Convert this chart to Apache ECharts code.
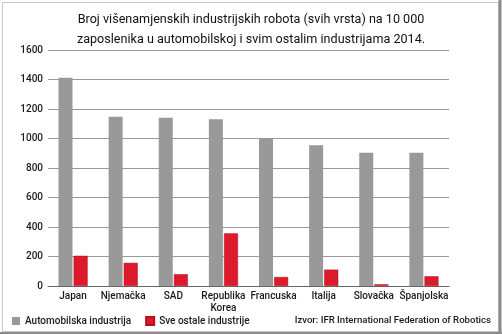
<!DOCTYPE html>
<html><head><meta charset="utf-8">
<script src="https://cdn.jsdelivr.net/npm/echarts@6/dist/echarts.min.js"></script>
<style>html,body{margin:0;padding:0;background:#fff}#c{width:502px;height:334px}</style>
</head><body><div id="c"></div>
<script>
const categories = ['Japan','Njemačka','SAD','Republika\nKorea','Francuska','Italija','Slovačka','Španjolska'];
const autoValues = [1412, 1148, 1141, 1130, 997, 954, 904, 904];
const otherValues = [205, 157, 80, 357, 61, 111, 12, 66];
const yTicks = [0, 200, 400, 600, 800, 1000, 1200, 1400, 1600];
const seriesNames = ['Automobilska industrija', 'Sve ostale industrije'];
const titleLines = ['Broj višenamjenskih industrijskih robota (svih vrsta) na 10 000', 'zaposlenika u automobilskoj i svim ostalim industrijama 2014.'];
const sourceText = 'Izvor: IFR International Federation of Robotics';

const FONT = 'Roboto';
const chart = echarts.init(document.getElementById('c'), null, {renderer: 'canvas'});
chart.setOption({
  animation: false,
  backgroundColor: '#fff',
  title: {
    text: titleLines.join('\n'),
    left: 'center', top: 5,
    textStyle: {fontFamily: FONT, fontSize: 12.6, fontWeight: 'normal', color: '#111', lineHeight: 20}
  },
  grid: {left: 48, right: 53, top: 50, bottom: 48},
  legend: {
    data: seriesNames,
    left: 12, top: 316, padding: 0,
    icon: 'rect', itemWidth: 8, itemHeight: 8, itemGap: 14,
    textStyle: {fontFamily: FONT, fontSize: 10, color: '#1a1a1a', fontWeight: 500}
  },
  xAxis: {
    type: 'category', data: categories,
    axisLine: {lineStyle: {color: '#666', width: 1}},
    axisTick: {show: false},
    axisLabel: {fontFamily: FONT, fontSize: 10, color: '#1a1a1a', fontWeight: 500, margin: 4, interval: 0, lineHeight: 12}
  },
  yAxis: {
    type: 'value', min: 0, max: 1600, interval: 200,
    axisLine: {show: false}, axisTick: {show: false},
    splitLine: {lineStyle: {color: '#999', width: 1.2}},
    axisLabel: {fontFamily: FONT, fontSize: 10, color: '#1a1a1a', fontWeight: 500, margin: 5,
      formatter: v => yTicks.includes(v) ? String(v) : ''}
  },
  series: [
    {name: seriesNames[0], type: 'bar', data: autoValues, barWidth: 14, barGap: '8%',
     itemStyle: {color: '#999999'}},
    {name: seriesNames[1], type: 'bar', data: otherValues, barWidth: 14,
     itemStyle: {color: '#dc1a2b', borderColor: '#b01020', borderWidth: 0.5}}
  ],
  graphic: [
    {type: 'text', x: 491, y: 321,
     style: {text: sourceText, font: '500 9.6px ' + FONT, fill: '#1a1a1a', align: 'right', verticalAlign: 'middle'}},
    {type: 'rect', shape: {x: 2.5, y: 2.5, width: 496, height: 329},
     style: {fill: 'none', stroke: '#c8c8c8', lineWidth: 1}, silent: true},
    {type: 'line', shape: {x1: 500, y1: 0, x2: 500, y2: 334}, style: {stroke: '#8a8a8a', lineWidth: 3}},
    {type: 'line', shape: {x1: 0, y1: 333, x2: 502, y2: 333}, style: {stroke: '#8a8a8a', lineWidth: 2}}
  ]
});
</script></body></html>
